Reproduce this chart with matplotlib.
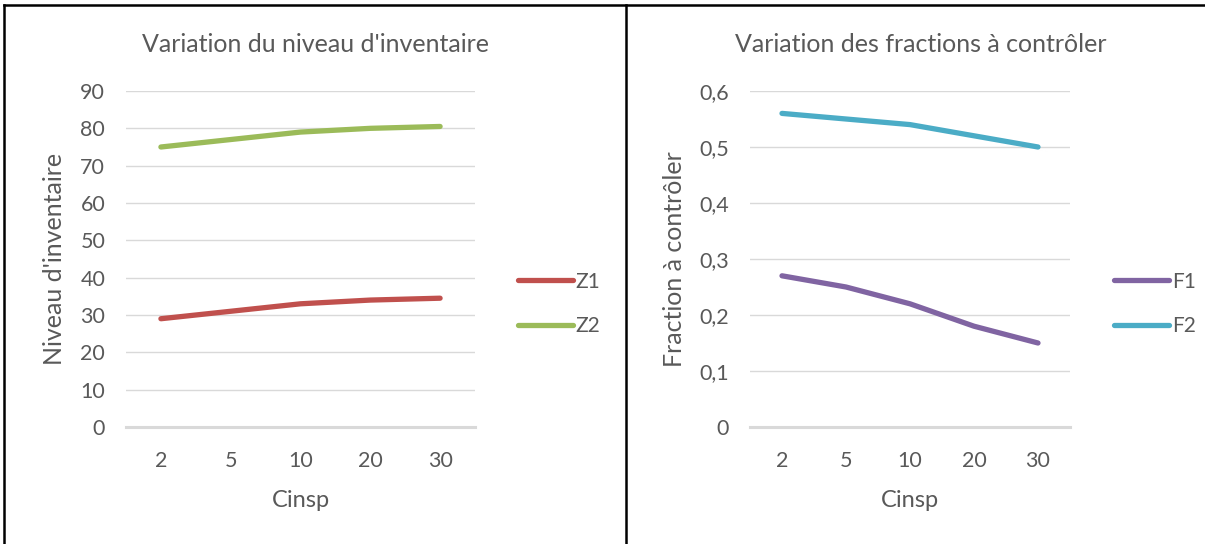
import matplotlib
matplotlib.use("Agg")
import matplotlib.pyplot as plt
from matplotlib.lines import Line2D

# Data
cinsp = ["2", "5", "10", "20", "30"]
z1 = [29, 31, 33, 34, 34.5]
z2 = [75, 77, 79, 80, 80.5]
f1 = [0.27, 0.25, 0.22, 0.18, 0.15]
f2 = [0.56, 0.55, 0.54, 0.52, 0.50]

inv_ticks = [0, 10, 20, 30, 40, 50, 60, 70, 80, 90]
frac_ticks = [0, 0.1, 0.2, 0.3, 0.4, 0.5, 0.6]
frac_labels = ["0", "0,1", "0,2", "0,3", "0,4", "0,5", "0,6"]

TEXT = "#595959"
GRID = "#d9d9d9"
plt.rcParams["font.family"] = ["Lato", "DejaVu Sans"]

fig = plt.figure(figsize=(12.05, 5.44), dpi=100)
W, H = 1205, 544


def style_axes(ax, ticks, labels, ymax):
    x = list(range(len(cinsp)))
    ax.set_xlim(-0.5, len(cinsp) - 0.5)
    ax.set_ylim(0, ymax)
    ax.set_xticks(x)
    ax.set_xticklabels(cinsp)
    ax.set_yticks(ticks)
    ax.set_yticklabels(labels)
    for s in ax.spines.values():
        s.set_visible(False)
    ax.tick_params(length=0, labelsize=15.5, colors=TEXT)
    ax.tick_params(axis="y", pad=15)
    ax.tick_params(axis="x", pad=17)
    for t in ticks[1:]:
        ax.axhline(t, color=GRID, lw=1.0, zorder=0)
    ax.axhline(0, color=GRID, lw=2.2, zorder=0, clip_on=False)
    ax.set_xlabel("Cinsp", fontsize=17, color=TEXT, labelpad=14)


idx = list(range(len(cinsp)))

# Left panel: inventory level
axL = fig.add_axes([126 / W, (H - 427) / H, 349 / W, 336 / H])
linesL = [
    axL.plot(idx, z1, color="#c0504d", lw=3.8, solid_capstyle="round", label="Z1")[0],
    axL.plot(idx, z2, color="#9bbb59", lw=3.8, solid_capstyle="round", label="Z2")[0],
]
style_axes(axL, inv_ticks, [str(t) for t in inv_ticks], 90)
axL.set_ylabel("Niveau d'inventaire", fontsize=18, color=TEXT, labelpad=10)
fig.text(316 / W, 1 - 45 / H, "Variation du niveau d'inventaire",
         fontsize=18, color=TEXT, ha="center", va="center")

# Right panel: fractions to inspect
axR = fig.add_axes([750 / W, (H - 427) / H, 320 / W, 336 / H])
linesR = [
    axR.plot(idx, f1, color="#8064a2", lw=3.8, solid_capstyle="round", label="F1")[0],
    axR.plot(idx, f2, color="#4bacc6", lw=3.8, solid_capstyle="round", label="F2")[0],
]
style_axes(axR, frac_ticks, frac_labels, 0.6)
axR.set_ylabel("Fraction à contrôler", fontsize=18, color=TEXT, labelpad=10)
fig.text(921 / W, 1 - 45 / H, "Variation des fractions à contrôler",
         fontsize=18, color=TEXT, ha="center", va="center")

for handles, x0 in ((linesL, 508 / W), (linesR, 1104 / W)):
    leg = fig.legend(handles=handles, loc="center left",
                     bbox_to_anchor=(x0, (H - 304) / H), frameon=False,
                     fontsize=15, handlelength=2.6, handletextpad=0.15,
                     labelspacing=1.2, borderpad=0)
    for t in leg.get_texts():
        t.set_color(TEXT)

# Panel borders
for xs, ys in (([4 / W, 1], [1 - 5 / H, 1 - 5 / H]),
               ([4 / W, 4 / W], [0, 1 - 5 / H]),
               ([626 / W, 626 / W], [0, 1 - 5 / H])):
    fig.add_artist(Line2D(xs, ys, color="black", lw=1.8, transform=fig.transFigure))

fig.savefig("out.png", dpi=100, facecolor="white")
